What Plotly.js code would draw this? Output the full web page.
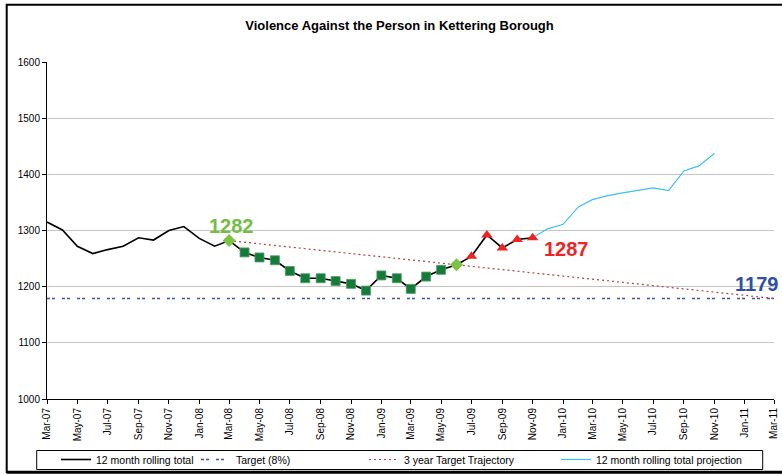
<!DOCTYPE html>
<html>
<head>
<meta charset="utf-8">
<script src="https://cdn.plot.ly/plotly-3.0.1.min.js"></script>
<style>
  html, body { margin: 0; padding: 0; background: #ffffff; }
  #chart { width: 782px; height: 474px; }
</style>
</head>
<body>
<div id="chart"></div>
<script>
// ---- Data ----
var rollingMonths = [
  '2007-03-01','2007-04-01','2007-05-01','2007-06-01','2007-07-01','2007-08-01',
  '2007-09-01','2007-10-01','2007-11-01','2007-12-01','2008-01-01','2008-02-01',
  '2008-03-01','2008-04-01','2008-05-01','2008-06-01','2008-07-01','2008-08-01',
  '2008-09-01','2008-10-01','2008-11-01','2008-12-01','2009-01-01','2009-02-01',
  '2009-03-01','2009-04-01','2009-05-01','2009-06-01','2009-07-01','2009-08-01',
  '2009-09-01','2009-10-01','2009-11-01'
];
var rollingTotal = [
  1315, 1301, 1272, 1259, 1266, 1272,
  1287, 1283, 1300, 1307, 1286, 1272,
  1282, 1261, 1252, 1247, 1228, 1215,
  1215, 1210, 1205, 1193, 1220, 1215,
  1196, 1218, 1230, 1239, 1254, 1292,
  1269, 1284, 1287
];

// Marker groups (indices into the rolling series)
var diamondIdx  = [12, 27];
var squareIdx   = [13, 14, 15, 16, 17, 18, 19, 20, 21, 22, 23, 24, 25, 26];
var triangleIdx = [28, 29, 30, 31, 32];

var projectionMonths = [
  '2009-11-01','2009-12-01','2010-01-01','2010-02-01','2010-03-01','2010-04-01',
  '2010-05-01','2010-06-01','2010-07-01','2010-08-01','2010-09-01','2010-10-01',
  '2010-11-01'
];
var projectionTotal = [1287, 1303, 1311, 1342, 1355, 1362, 1367, 1372, 1376, 1371, 1406, 1415, 1437];

var targetMonths = ['2007-03-01', '2011-03-01'];
var targetValues = [1179, 1179];

var trajectoryMonths = ['2008-03-01', '2011-03-01'];
var trajectoryValues = [1282, 1179];

var seriesNames = ['12 month rolling total', 'Target (8%)', '3 year Target Trajectory', '12 month rolling total projection'];
var chartTitle = 'Violence Against the Person in Kettering Borough';

// ---- Helpers ----
function pick(arr, idx) { return idx.map(function (i) { return arr[i]; }); }

// paper coordinate helpers (plot area: x 47..774, y 62..399)
var L = 47, R = 8, T = 62, B = 75, W = 782, H = 474;
var PW = W - L - R, PH = H - T - B;
function px(x) { return (x - L) / PW; }
function py(y) { return (H - B - y) / PH; }

var FONT = 'Liberation Sans, Arial, Helvetica, sans-serif';

var traces = [
  {
    x: targetMonths, y: targetValues, type: 'scatter', mode: 'lines',
    name: seriesNames[1], legendrank: 2, legendwidth: 123,
    line: { color: '#3A56A8', width: 1.5, dash: '3px,2px,3px,7px' },
    hoverinfo: 'skip'
  },
  {
    x: trajectoryMonths, y: trajectoryValues, type: 'scatter', mode: 'lines',
    name: seriesNames[2], legendrank: 3, legendwidth: 147,
    line: { color: '#A84444', width: 1.2, dash: '2px,3px' },
    hoverinfo: 'skip'
  },
  {
    x: projectionMonths, y: projectionTotal, type: 'scatter', mode: 'lines',
    name: seriesNames[3], legendrank: 4, legendwidth: 158,
    line: { color: '#3EC0EE', width: 1.2 },
    hoverinfo: 'skip'
  },
  {
    x: rollingMonths, y: rollingTotal, type: 'scatter', mode: 'lines',
    name: seriesNames[0], legendrank: 1, legendwidth: 95,
    line: { color: '#000000', width: 1.6 },
    hoverinfo: 'skip'
  },
  {
    x: pick(rollingMonths, squareIdx), y: pick(rollingTotal, squareIdx),
    type: 'scatter', mode: 'markers', showlegend: false,
    marker: { symbol: 'square', size: 9, color: '#167A3A', line: { color: '#4E9E62', width: 0.8 } },
    hoverinfo: 'skip'
  },
  {
    x: pick(rollingMonths, diamondIdx), y: pick(rollingTotal, diamondIdx),
    type: 'scatter', mode: 'markers', showlegend: false,
    marker: { symbol: 'diamond', size: 10, color: '#7DC243' },
    hoverinfo: 'skip'
  },
  {
    x: pick(rollingMonths, triangleIdx), y: pick(rollingTotal, triangleIdx),
    type: 'scatter', mode: 'markers', showlegend: false,
    marker: { symbol: 'triangle-up', size: 10, color: '#EE2424' },
    hoverinfo: 'skip'
  }
];

var layout = {
  width: W, height: H,
  margin: { l: L, r: R, t: T, b: B, pad: 0, autoexpand: false },
  paper_bgcolor: '#ffffff', plot_bgcolor: '#ffffff',
  font: { family: FONT, size: 10, color: '#000000' },
  title: {
    text: chartTitle,
    font: { family: FONT, size: 13, weight: 'bold', color: '#000000' },
    xref: 'container', yref: 'container',
    x: 399.5 / W, xanchor: 'center',
    y: 1 - 25 / H, yanchor: 'middle'
  },
  xaxis: {
    type: 'date',
    range: ['2007-03-01', '2011-03-01'],
    tick0: '2007-03-01', dtick: 'M2', tickformat: '%b-%y',
    tickangle: -90,
    ticks: 'outside', ticklen: 4, tickcolor: '#000000', tickwidth: 1,
    showline: true, linecolor: '#000000', linewidth: 1,
    showgrid: false, zeroline: false, automargin: false,
    tickfont: { family: FONT, size: 10, color: '#000000' }
  },
  yaxis: {
    range: [1000, 1600], dtick: 100, tick0: 1000,
    ticks: 'outside', ticklen: 4, tickcolor: '#000000', tickwidth: 1,
    showline: true, linecolor: '#000000', linewidth: 1,
    showgrid: true, gridcolor: '#C4C4C4', gridwidth: 1,
    zeroline: false, automargin: false,
    tickfont: { family: FONT, size: 10, color: '#000000' }
  },
  showlegend: true,
  legend: {
    orientation: 'h',
    x: px(56), xanchor: 'left',
    y: py(459.5), yanchor: 'middle',
    bgcolor: 'rgba(0,0,0,0)', borderwidth: 0,
    font: { family: FONT, size: 10.5, color: '#000000' },
    itemwidth: 30,
    itemclick: false, itemdoubleclick: false
  },
  annotations: [
    {
      x: rollingMonths[12], y: rollingTotal[12], xref: 'x', yref: 'y',
      text: String(rollingTotal[12]), showarrow: false,
      xshift: 2, yshift: 15,
      font: { family: FONT, size: 20, weight: 'bold', color: '#72BE44' }
    },
    {
      x: rollingMonths[32], y: rollingTotal[32], xref: 'x', yref: 'y',
      text: String(rollingTotal[32]), showarrow: false,
      xshift: 34, yshift: -11,
      font: { family: FONT, size: 20, weight: 'bold', color: '#EE2424' }
    },
    {
      x: targetMonths[1], y: targetValues[1], xref: 'x', yref: 'y',
      text: String(targetValues[1]), showarrow: false,
      xshift: -18, yshift: 14,
      font: { family: FONT, size: 20, weight: 'bold', color: '#2E50A2' }
    }
  ],
  shapes: [
    // outer chart frame
    { type: 'rect', xref: 'paper', yref: 'paper',
      x0: px(6.7), x1: px(795), y0: py(472), y1: py(4.8),
      line: { color: '#000000', width: 2 }, fillcolor: 'rgba(0,0,0,0)', layer: 'above' },
    { type: 'line', xref: 'paper', yref: 'paper',
      x0: px(6.7), x1: px(795), y0: py(472.3), y1: py(472.3),
      line: { color: '#000000', width: 3 }, layer: 'above' },
    // legend box
    { type: 'rect', xref: 'paper', yref: 'paper',
      x0: px(36.7), x1: px(762.7), y0: py(469.5), y1: py(450.5),
      line: { color: '#000000', width: 1 }, fillcolor: 'rgba(0,0,0,0)', layer: 'above' }
  ]
};

Plotly.newPlot('chart', traces, layout, { staticPlot: true, displayModeBar: false });
</script>
</body>
</html>
